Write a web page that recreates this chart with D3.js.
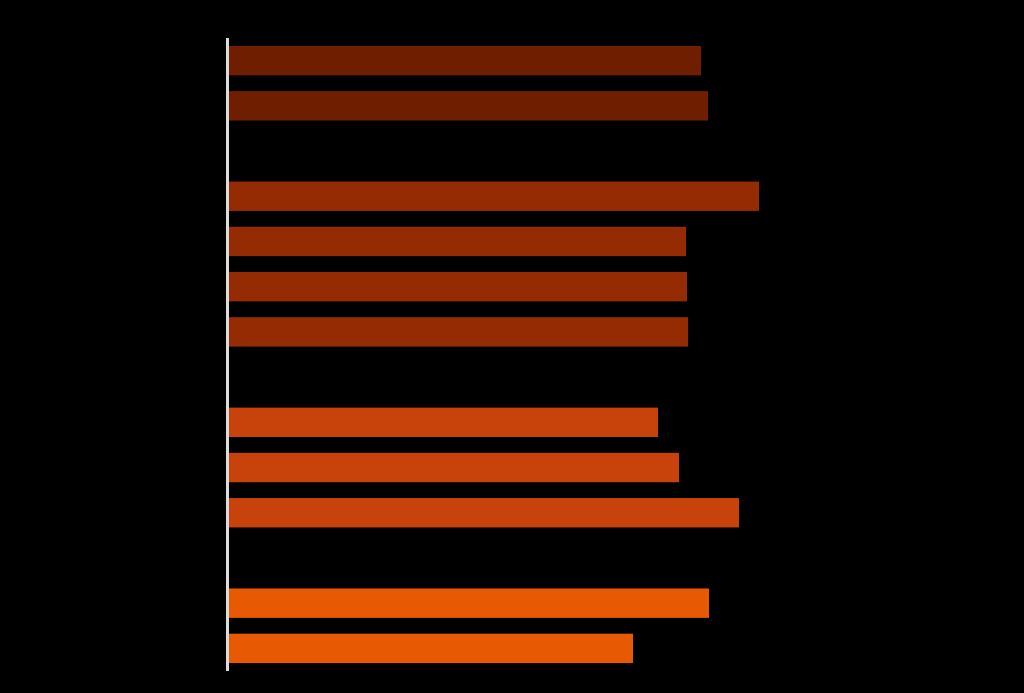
<!DOCTYPE html>
<html>
<head>
<meta charset="utf-8">
<script src="https://cdn.jsdelivr.net/npm/d3@7"></script>
<style>
  html, body { margin: 0; padding: 0; background: #000; }
  svg { display: block; }
</style>
</head>
<body>
<svg id="chart" width="1024" height="693"></svg>
<script>
// Rows (including empty spacer rows between groups)
const categories = ["A1", "A2", "gap1", "B1", "B2", "B3", "B4", "gap2", "C1", "C2", "C3", "gap3", "D1", "D2"];
const groups     = ["A",  "A",  null,   "B",  "B",  "B",  "B",  null,   "C",  "C",  "C",  null,   "D",  "D"];
const values     = [472,  479,  null,   530,  457,  458,  459,  null,   429,  450,  510,  null,   480,  404];
const groupNames = ["A", "B", "C", "D"];
const groupColors = ["#701e00", "#952b02", "#c8420b", "#e85903"];

(function () {
  const svg = d3.select("#chart");
  const mLeft = 229, mTop = 38, mBottom = 671;

  const y = d3.scaleBand().domain(categories).range([mTop, mBottom]).paddingInner(0.35).paddingOuter(0.175);
  const x = d3.scaleLinear().domain([0, 700]).range([mLeft, mLeft + 700]);
  const color = d3.scaleOrdinal().domain(groupNames).range(groupColors);

  const data = categories.map((c, i) => ({ cat: c, group: groups[i], value: values[i] }))
    .filter(d => d.value != null);

  svg.append("g").selectAll("rect")
    .data(data)
    .join("rect")
    .attr("x", x(0))
    .attr("y", d => y(d.cat))
    .attr("width", d => x(d.value) - x(0))
    .attr("height", y.bandwidth())
    .attr("fill", d => color(d.group));

  svg.append("line")
    .attr("x1", mLeft - 1.5).attr("x2", mLeft - 1.5)
    .attr("y1", mTop).attr("y2", mBottom)
    .attr("stroke", "#dcdcdc")
    .attr("stroke-width", 3);
})();
</script>
</body>
</html>
